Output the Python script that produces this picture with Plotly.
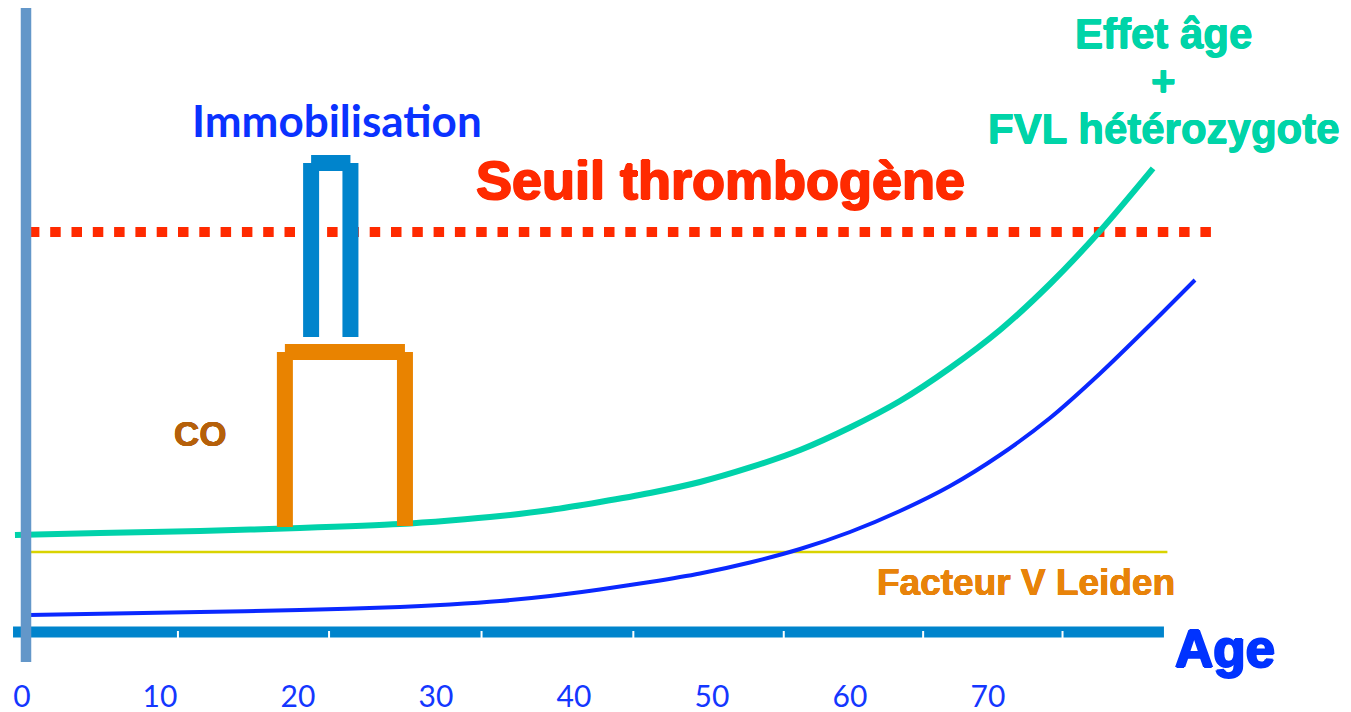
import plotly.graph_objects as go

# --- data (x = age in years, y = risk level in arbitrary units) ---
tick_ages = [0, 10, 20, 30, 40, 50, 60, 70]
tick_labels = ["0", "10", "20", "30", "40", "50", "60", "70"]

# effet age + FVL heterozygote
teal_age = [-0.51, 5.65, 12.9, 20.14, 27.39, 31.01, 34.64, 38.26, 41.88, 45.51,
            49.13, 52.75, 56.38, 60.0, 63.62, 67.25, 70.87, 74.49, 78.12, 81.96]
teal_risk = [24.25, 24.75, 25.25, 26.0, 27.0, 27.88, 29.0, 30.5, 32.5, 34.75,
             37.5, 41.13, 45.5, 51.13, 57.75, 66.0, 75.5, 87.0, 100.25, 115.9]

# effet age seul
blue_age = [0.51, 12.9, 20.14, 27.39, 31.01, 34.64, 38.26, 41.88, 45.51, 49.13,
            52.75, 56.38, 60.0, 63.62, 67.25, 70.87, 74.49, 78.12, 81.74, 85.0]
blue_risk = [4.25, 5.0, 5.5, 6.25, 6.88, 7.75, 9.0, 10.63, 12.5, 14.63,
             17.38, 20.75, 25.0, 30.25, 36.5, 44.25, 53.5, 64.63, 76.75, 88.0]

# seuil thrombogene
seuil_age = [0.5, 86.2]
seuil_risk = [100, 100]

# facteur V Leiden
fvl_age = [0.5, 83.0]
fvl_risk = [20, 20]

# CO (contraception orale) bracket
co_age = [19.05, 27.75]
co_bottom = [26.25, 26.5]
co_top = 70

# immobilisation bracket
immo_age = [20.95, 23.8]
immo_bottom = [73.75, 73.75]
immo_top = 117.25

# axes drawn as thick bars
yaxis_bar_age = [0.29, 0.29]
yaxis_bar_risk = [-7.5, 156]
xaxis_bar_age = [-0.65, 82.75]
xaxis_bar_risk = [0, 0]
notch_ages = [11.3, 22.25, 33.3, 44.3, 55.2, 65.3, 75.4]
notch_risk = [0.25, -1.5]


def seg(fig, x, y, color, width, dash=None):
    fig.add_trace(go.Scatter(
        x=x, y=y, mode="lines",
        line=dict(color=color, width=width, dash=dash),
        hoverinfo="skip", showlegend=False,
    ))


def curve(fig, x, y, color, width):
    fig.add_trace(go.Scatter(
        x=x, y=y, mode="lines",
        line=dict(color=color, width=width, shape="spline", smoothing=0.8,
                  simplify=False),
        hoverinfo="skip", showlegend=False,
    ))


fig = go.Figure()

seg(fig, seuil_age, seuil_risk, "#FF2A00", 10, dash="10.5px,10.8px")
seg(fig, fvl_age, fvl_risk, "#D9D300", 2.5)
curve(fig, blue_age, blue_risk, "#0A28FF", 4)
curve(fig, teal_age, teal_risk, "#00D2AA", 6)

# brackets: verticals end at the centre of the top bar -> notched corners
for a, b in zip(co_age, co_bottom):
    seg(fig, [a, a], [b, co_top], "#E98300", 16)
seg(fig, co_age, [co_top, co_top], "#E98300", 16)
for a, b in zip(immo_age, immo_bottom):
    seg(fig, [a, a], [b, immo_top], "#0084CC", 16)
seg(fig, immo_age, [immo_top, immo_top], "#0084CC", 16)

seg(fig, xaxis_bar_age, xaxis_bar_risk, "#0084CC", 11)
for a in notch_ages:
    seg(fig, [a, a], notch_risk, "white", 2)
seg(fig, yaxis_bar_age, yaxis_bar_risk, "#6397C9", 10.5)

bold = "Liberation Sans, Arial, sans-serif"
# (text, age, risk, size, colour, family, extra weight)
notes = [
    ("Immobilisation", 22.8, 128, 44, "#0A32FF", "Lato, Calibri, sans-serif", 0),
    ("Seuil thrombogène", 50.6, 113, 54, "#FF2A00", bold, 1.0),
    ("CO", 12.9, 49.75, 35, "#B5600A", bold, 0.4),
    ("Facteur V Leiden", 72.75, 12.5, 37, "#E8830A", bold, 0.4),
    ("Effet âge", 82.75, 149.75, 42, "#00D4A8", bold, 0.5),
    ("+", 82.75, 138, 42, "#00D4A8", bold, 0.5),
    ("FVL hétérozygote", 82.75, 126, 42, "#00D4A8", bold, 0.5),
    ("Age", 87.2, -4, 53, "#0033FF", bold, 1.2),
]
for text, x, y, size, color, family, heavy in notes:
    shadow = "none"
    if heavy:
        shadow = (f"{heavy}px 0 0 {color}, -{heavy}px 0 0 {color}, "
                  f"0 {heavy}px 0 {color}, 0 -{heavy}px 0 {color}")
    fig.add_annotation(
        x=x, y=y, text=text, showarrow=False,
        xanchor="center", yanchor="middle",
        font=dict(family=family, size=size, color=color, weight="bold",
                  shadow=shadow),
    )

# the page body has an 8px margin: figure is sized and ranged to compensate
fig.update_layout(
    width=1343, height=704,
    margin=dict(l=0, r=0, t=0, b=36),
    paper_bgcolor="white", plot_bgcolor="white",
    xaxis=dict(
        range=[-1.0145, 96.304], tickvals=tick_ages, ticktext=tick_labels,
        showgrid=False, zeroline=False, showline=False,
        ticks="", tickfont=dict(family="Liberation Sans Narrow, Lato, sans-serif",
                                size=30, color="#1437FF"),
    ),
    yaxis=dict(range=[-11, 156], visible=False),
)

fig.write_html("out.html")
